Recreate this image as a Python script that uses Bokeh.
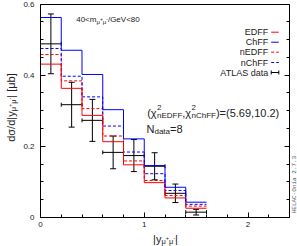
import math
from bokeh.plotting import figure
from bokeh.models import (Range1d, FixedTicker, LinearAxis, CustomJSTickFormatter,
                          Label, Whisker, ColumnDataSource, TeeHead)
from bokeh.embed import file_html
from bokeh.resources import INLINE

# ---------------- data ----------------
bin_edges = [0.0, 0.2, 0.4, 0.6, 0.8, 1.0, 1.2, 1.4, 1.6]
edff = [0.431, 0.363, 0.287, 0.213, 0.148, 0.098, 0.055, 0.026]
chff = [0.562, 0.470, 0.402, 0.303, 0.221, 0.146, 0.085, 0.043]
nedff = [0.458, 0.384, 0.306, 0.229, 0.159, 0.104, 0.062, 0.032]
nchff = [0.475, 0.397, 0.339, 0.257, 0.184, 0.123, 0.076, 0.037]
atlas = [0.488, 0.317, 0.273, 0.183, 0.174, 0.144, 0.068, 0.015]
atlas_err = [0.084, 0.063, 0.059, 0.046, 0.045, 0.038, 0.026, 0.008]
series_names = ["EDFF", "ChFF", "nEDFF", "nChFF", "ATLAS data"]
y_ticks = [0.0, 0.2, 0.4, 0.6]
x_ticks = [0, 1, 2]
chi2_values = ["5.69", "10.2"]
n_data = 8

RED = "#ff0000"
BLUE = "#0000ff"
FONT = "Liberation Sans"
TXT = "#222222"

# ---------------- layout ----------------
W, H = 297, 246
XMIN, XMAX, YMIN, YMAX = 0.0, 2.4, 0.0, 0.6
PL, PR, PT, PB = 40.0, 289.0, 3.5, 217.0    # plot box in page px


def X(px):
    return XMIN + (px - PL) / (PR - PL) * (XMAX - XMIN)


def Y(py):
    return YMIN + (PB - py) / (PB - PT) * (YMAX - YMIN)


# the frame covers the whole canvas; the plot box is drawn with fixed-location axes
p = figure(width=W, height=H, output_backend="svg", toolbar_location=None,
           x_range=Range1d(X(0), X(W)), y_range=Range1d(Y(H), Y(0)),
           x_axis_location=None, y_axis_location=None,
           min_border_left=0, min_border_right=0, min_border_top=0, min_border_bottom=0)
p.background_fill_color = "white"
p.border_fill_color = "white"
p.outline_line_color = None
p.xgrid.visible = False
p.ygrid.visible = False

minor_y = [round(0.05 * i, 2) for i in range(13)]
minor_x = [round(0.2 * i, 1) for i in range(13)]


def make_axis(ticker, formatter, loc, bounds, ticks=True):
    ax = LinearAxis(ticker=ticker, formatter=formatter, fixed_location=loc, bounds=bounds)
    ax.axis_line_color = "black"
    ax.axis_line_width = 1
    ax.major_tick_in = 5 if ticks else 0
    ax.major_tick_out = 0
    ax.minor_tick_in = 3 if ticks else 0
    ax.minor_tick_out = 0
    ax.major_tick_line_color = "black"
    ax.minor_tick_line_color = "black"
    ax.major_label_text_font = FONT
    ax.major_label_text_font_size = "8px"
    ax.major_label_text_color = TXT
    return ax


empty = CustomJSTickFormatter(code="return '';")
yax = make_axis(FixedTicker(ticks=y_ticks, minor_ticks=minor_y),
                CustomJSTickFormatter(code="return tick == 0 ? '0' : tick.toFixed(1);"),
                XMIN, (YMIN, YMAX))
yax.major_label_standoff = 6
p.add_layout(yax, "left")

xax = make_axis(FixedTicker(ticks=x_ticks, minor_ticks=minor_x),
                CustomJSTickFormatter(code="return tick.toFixed(0);"),
                YMIN, (XMIN, XMAX))
xax.major_label_standoff = 4
p.add_layout(xax, "below")

rax = make_axis(FixedTicker(ticks=y_ticks, minor_ticks=minor_y), empty, XMAX, (YMIN, YMAX))
p.add_layout(rax, "right")

tax = make_axis(FixedTicker(ticks=x_ticks, minor_ticks=minor_x), empty, YMAX, (XMIN, XMAX),
                ticks=False)
p.add_layout(tax, "above")

# ---------------- histograms ----------------
def step(vals, color, dash):
    p.step(x=bin_edges, y=list(vals) + [vals[-1]], mode="after",
           line_color=color, line_width=1, line_dash=dash)

step(nedff, RED, "3 2")
step(nchff, BLUE, "3 2")
step(edff, RED, "solid")
step(chff, BLUE, "solid")

# ATLAS data
centers = [(a + b) / 2 for a, b in zip(bin_edges[:-1], bin_edges[1:])]
src = ColumnDataSource(dict(
    x=centers, y=atlas,
    lo=[v - e for v, e in zip(atlas, atlas_err)],
    hi=[v + e for v, e in zip(atlas, atlas_err)],
    xl=bin_edges[:-1], xr=bin_edges[1:]))
p.add_layout(Whisker(source=src, base="x", lower="lo", upper="hi", dimension="height",
                     line_color="black", line_width=1,
                     lower_head=TeeHead(size=6, line_color="black", line_width=1),
                     upper_head=TeeHead(size=6, line_color="black", line_width=1)))
p.add_layout(Whisker(source=src, base="y", lower="xl", upper="xr", dimension="width",
                     line_color="black", line_width=1,
                     lower_head=TeeHead(size=4, line_color="black", line_width=1),
                     upper_head=TeeHead(size=4, line_color="black", line_width=1)))

# ---------------- text helpers ----------------
WID = {' ': 278, '(': 333, ')': 333, ',': 278, '.': 278, '=': 584, '<': 584, '/': 278,
       '|': 260, '[': 278, ']': 278, '+': 584, '-': 333, 'A': 667, 'C': 722, 'D': 722,
       'E': 667, 'F': 611, 'G': 778, 'L': 556, 'N': 722, 'S': 667, 'T': 611, 'V': 667,
       'a': 556, 'b': 556, 'd': 556, 'e': 556, 'h': 556, 'm': 833, 'n': 556, 't': 278,
       'y': 500, 'μ': 576, 'σ': 617, 'χ': 556}


def tw(s, size):
    return sum(WID.get(c, 556) for c in s) * size / 1000.0


def rich(px, py, groups, angle=0.0, color=TXT, align="left"):
    """Place a run of text pieces (with sub/superscripts) starting at page px, py."""
    total = sum(max(tw(t, s) for t, s, d in g) for g in groups)
    cum = -total / 2 if align == "center" else 0.0
    for g in groups:
        for t, s, d in g:
            if angle == 0:
                xo, yo = cum, d
            else:
                xo, yo = -d, cum
            p.add_layout(Label(x=X(px), y=Y(py), x_offset=xo, y_offset=yo, text=t,
                               angle=angle, text_font=FONT, text_font_size=f"{s}px",
                               text_color=color, text_baseline="alphabetic",
                               text_align="left"))
        cum += max(tw(t, s) for t, s, d in g)


# annotation at top
rich(75.7, 18.5, [[("40<m", 8, 0)], [("μ", 6, -2.5)], [("+", 5, 0.5)],
                  [("μ", 6, -2.5)], [("-", 5, 0.5)], [("/GeV<80", 8, 0)]])

# legend (text on the left, sample on the right)
leg_y = [31.7, 41.7, 51.7, 62.0, 72.0]
leg_style = [(RED, "solid"), (BLUE, "solid"), (RED, "3 2"), (BLUE, "3 2"), ("black", None)]
for name, py, (col, dash) in zip(series_names, leg_y, leg_style):
    p.add_layout(Label(x=X(267.7), y=Y(py), text=name, text_font=FONT,
                       text_font_size="9px", text_color=TXT, text_align="right",
                       text_baseline="middle"))
    if dash is not None:
        p.segment(x0=X(270.7), y0=Y(py), x1=X(278.3), y1=Y(py),
                  line_color=col, line_width=1, line_dash=dash)
    else:
        p.segment(x0=X(270.7), y0=Y(py), x1=X(278.3), y1=Y(py), line_color="black")
        p.segment(x0=[X(270.7), X(278.3)], y0=[Y(py - 2), Y(py - 2)],
                  x1=[X(270.7), X(278.3)], y1=[Y(py + 2), Y(py + 2)], line_color="black")

# chi^2 text
rich(146.7, 112, [[("(χ", 11, 0)], [("2", 8, 5), ("nEDFF", 8, -3)], [(",", 11, 0)],
                  [("χ", 11, 0)], [("2", 8, 5), ("nChFF", 8, -3)],
                  [(f")=({chi2_values[0]},{chi2_values[1]})", 11, 0)]])
rich(146, 128, [[("N", 11, 0)], [("data", 8, -3)], [(f"={n_data}", 11, 0)]])

# axis titles
rich(165, 238, [[("|y", 11, 0)], [("μ", 7.5, -2.5)], [("+", 5.5, 1)],
                [("μ", 7.5, -2.5)], [("-", 5.5, 1)], [("|", 11, 0)]], align="center")
rich(10, 107, [[("dσ/d|y", 11, 0)], [("μ", 7.5, -3)], [("+", 5.5, 1)],
               [("μ", 7.5, -3)], [("-", 5.5, 1)], [("| [μb]", 11, 0)]],
     angle=math.pi / 2, align="center")

# program tag on the right
p.add_layout(Label(x=X(293.5), y=Y(184), text="HELAC-Onia 2.7.3", angle=math.pi / 2,
                   text_font="Liberation Mono", text_font_size="6px", text_color="#555555",
                   text_align="center", text_baseline="middle"))

open("out.html", "w").write(file_html(p, INLINE))
